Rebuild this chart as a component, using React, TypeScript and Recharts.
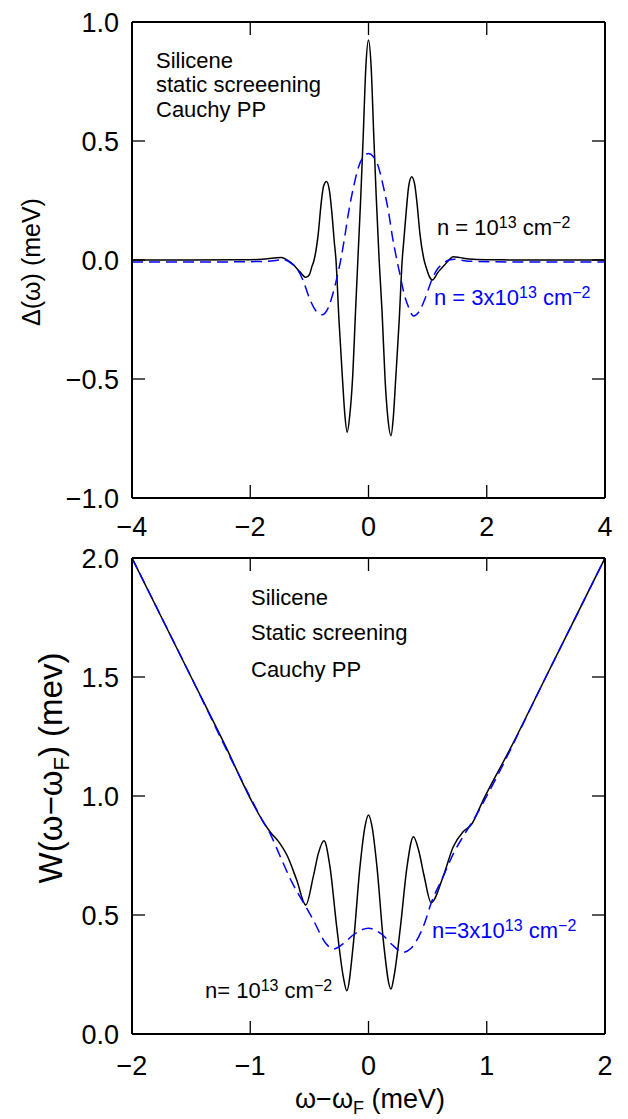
import React from 'react';
import { LineChart, Line, XAxis, YAxis } from 'recharts';

// ---------- Top panel: Delta(omega) ----------
const topOmegaN1 = [-4, -3, -2, -1.8, -1.6, -1.47, -1.38, -1.27, -1.16, -1.06, -1.0, -0.96, -0.92, -0.85, -0.8, -0.76, -0.71, -0.66, -0.62, -0.58, -0.55, -0.5, -0.44, -0.4, -0.36, -0.32, -0.27, -0.22, -0.18, -0.13, -0.088, -0.045, 0, 0.045, 0.088, 0.13, 0.18, 0.23, 0.28, 0.33, 0.38, 0.42, 0.46, 0.52, 0.57, 0.6, 0.64, 0.68, 0.73, 0.78, 0.82, 0.87, 0.94, 0.98, 1.03, 1.08, 1.18, 1.29, 1.38, 1.43, 1.55, 1.7, 2, 3, 4];
const topDeltaN1 = [0, 0, 0.001, 0.003, 0.008, 0.011, 0.0, -0.02, -0.05, -0.073, -0.062, -0.03, 0, 0.11, 0.24, 0.31, 0.33, 0.29, 0.2, 0.08, 0, -0.25, -0.5, -0.65, -0.724, -0.66, -0.5, -0.22, 0, 0.27, 0.53, 0.81, 0.924, 0.81, 0.53, 0.27, 0, -0.22, -0.5, -0.67, -0.738, -0.66, -0.5, -0.25, 0, 0.09, 0.21, 0.31, 0.35, 0.32, 0.24, 0.11, 0, -0.035, -0.07, -0.084, -0.05, -0.02, 0.005, 0.014, 0.01, 0.004, 0.001, 0, 0];

const topOmegaN3 = [-4, -2.5, -1.8, -1.6, -1.45, -1.3, -1.2, -1.1, -1.0, -0.9, -0.78, -0.68, -0.6, -0.53, -0.47, -0.4, -0.34, -0.25, -0.17, -0.08, 0, 0.08, 0.17, 0.25, 0.34, 0.41, 0.48, 0.54, 0.6, 0.68, 0.76, 0.86, 0.96, 1.06, 1.16, 1.26, 1.36, 1.46, 1.62, 1.8, 2.5, 4];
const topDeltaN3 = [-0.008, -0.008, -0.006, -0.003, 0.002, -0.015, -0.04, -0.09, -0.16, -0.21, -0.23, -0.2, -0.14, -0.07, 0, 0.1, 0.196, 0.31, 0.39, 0.435, 0.448, 0.435, 0.39, 0.31, 0.2, 0.09, 0, -0.07, -0.14, -0.2, -0.235, -0.215, -0.16, -0.09, -0.04, -0.015, 0, 0.003, -0.003, -0.006, -0.008, -0.008];

const topXTicks = [-4, -2, 0, 2, 4];
const topXTickLabels = ['\u22124', '\u22122', '0', '2', '4'];
const topYTicks = [-1, -0.5, 0, 0.5, 1];
const topYTickLabels = ['\u22121.0', '\u22120.5', '0.0', '0.5', '1.0'];

// ---------- Bottom panel: W(omega - omega_F) ----------
const botOmegaN1 = [-2, -1.5, -1.2, -1.0, -0.9, -0.833, -0.748, -0.69, -0.607, -0.53, -0.467, -0.424, -0.376, -0.326, -0.269, -0.213, -0.184, -0.128, -0.072, -0.03, 0, 0.03, 0.072, 0.128, 0.19, 0.215, 0.27, 0.325, 0.38, 0.425, 0.47, 0.53, 0.63, 0.717, 0.8, 0.87, 0.97, 1.2, 1.5, 2];
const botWN1 = [2.0, 1.5, 1.2, 0.99, 0.9, 0.85, 0.8, 0.752, 0.647, 0.542, 0.661, 0.759, 0.812, 0.703, 0.451, 0.24, 0.182, 0.38, 0.703, 0.871, 0.92, 0.871, 0.7, 0.38, 0.189, 0.24, 0.45, 0.7, 0.829, 0.77, 0.665, 0.552, 0.66, 0.787, 0.85, 0.88, 0.983, 1.2, 1.5, 2.0];

const botOmegaN3 = [-2, -1.5, -1.0, -0.9, -0.83, -0.75, -0.65, -0.53, -0.467, -0.36, -0.3, -0.2, -0.13, 0, 0.12, 0.2, 0.294, 0.36, 0.41, 0.47, 0.53, 0.63, 0.72, 0.8, 0.9, 1.0, 1.5, 2];
const botWN3 = [2.0, 1.5, 0.995, 0.9, 0.84, 0.75, 0.64, 0.535, 0.479, 0.38, 0.357, 0.385, 0.416, 0.444, 0.416, 0.375, 0.343, 0.36, 0.395, 0.46, 0.55, 0.66, 0.76, 0.83, 0.91, 1.0, 1.5, 2.0];

const botXTicks = [-2, -1, 0, 1, 2];
const botXTickLabels = ['\u22122', '\u22121', '0', '1', '2'];
const botYTicks = [0, 0.5, 1, 1.5, 2];
const botYTickLabels = ['0.0', '0.5', '1.0', '1.5', '2.0'];

const FONT = 'Liberation Sans, Arial, Helvetica, sans-serif';
const BLUE = '#0000ff';

const zip = (xs: number[], ys: number[]) => xs.map((x, i) => ({ x, y: ys[i] }));

const labelFor = (ticks: number[], labels: string[]) => (v: number) => {
  const i = ticks.findIndex((t) => Math.abs(t - v) < 1e-9);
  return i >= 0 ? labels[i] : '';
};

type PanelProps = {
  black: { x: number; y: number }[];
  blue: { x: number; y: number }[];
  xDomain: [number, number];
  yDomain: [number, number];
  xTicks: number[];
  xLabels: string[];
  yTicks: number[];
  yLabels: string[];
  height: number;
  plotTop: number;
  plotBottom: number;
  xTickMargin: number;
};

const frame = { stroke: '#000', strokeWidth: 2 };
const tickLine = { stroke: '#000', strokeWidth: 1.3 };
const tickFont = { fontSize: 27, fill: '#000', fontFamily: FONT };

const PLOT_LEFT = 132;
const PLOT_RIGHT = 605;
const LEFT_W = 60;
const RIGHT_W = 10;
const TOP_H = 10;
const BOTTOM_H = 30;

function Panel(p: PanelProps) {
  const margin = {
    top: p.plotTop - TOP_H,
    bottom: p.height - p.plotBottom - BOTTOM_H,
    left: PLOT_LEFT - LEFT_W,
    right: 628 - PLOT_RIGHT - RIGHT_W,
  };
  return (
    <LineChart width={628} height={p.height} margin={margin} style={{ overflow: 'visible' }}>
      <XAxis
        xAxisId="b"
        type="number"
        dataKey="x"
        orientation="bottom"
        domain={p.xDomain}
        ticks={p.xTicks}
        interval={0}
        allowDataOverflow
        height={BOTTOM_H}
        tickSize={-13}
        tickMargin={p.xTickMargin}
        axisLine={frame}
        tickLine={tickLine}
        tick={tickFont}
        tickFormatter={labelFor(p.xTicks, p.xLabels)}
      />
      <XAxis
        xAxisId="t"
        type="number"
        dataKey="x"
        orientation="top"
        domain={p.xDomain}
        ticks={p.xTicks}
        interval={0}
        allowDataOverflow
        height={TOP_H}
        tickSize={-13}
        axisLine={frame}
        tickLine={tickLine}
        tick={tickFont}
        tickFormatter={() => ''}
      />
      <YAxis
        yAxisId="l"
        type="number"
        orientation="left"
        domain={p.yDomain}
        ticks={p.yTicks}
        interval={0}
        allowDataOverflow
        width={LEFT_W}
        tickSize={-13}
        tickMargin={26}
        axisLine={frame}
        tickLine={tickLine}
        tick={tickFont}
        tickFormatter={labelFor(p.yTicks, p.yLabels)}
      />
      <YAxis
        yAxisId="r"
        type="number"
        orientation="right"
        domain={p.yDomain}
        ticks={p.yTicks}
        interval={0}
        allowDataOverflow
        width={RIGHT_W}
        tickSize={-13}
        axisLine={frame}
        tickLine={tickLine}
        tick={tickFont}
        tickFormatter={() => ''}
      />
      <Line
        xAxisId="b"
        yAxisId="l"
        data={p.black}
        dataKey="y"
        type="monotone"
        stroke="#000"
        strokeWidth={1.5}
        dot={false}
        activeDot={false}
        isAnimationActive={false}
      />
      <Line
        xAxisId="b"
        yAxisId="l"
        data={p.blue}
        dataKey="y"
        type="monotone"
        stroke={BLUE}
        strokeWidth={1.5}
        strokeDasharray="11 6"
        dot={false}
        activeDot={false}
        isAnimationActive={false}
      />
    </LineChart>
  );
}

function Sup({ children }: { children: React.ReactNode }) {
  return (
    <tspan dy={-7} fontSize={16}>
      {children}
    </tspan>
  );
}

export default function App() {
  return (
    <div style={{ position: 'absolute', left: 0, top: 0, width: 628, height: 1119, background: '#fff', fontFamily: FONT }}>
      <div style={{ position: 'absolute', left: 0, top: 0 }}>
        <Panel
          black={zip(topOmegaN1, topDeltaN1)}
          blue={zip(topOmegaN3, topDeltaN3)}
          xDomain={[-4, 4]}
          yDomain={[-1, 1]}
          xTicks={topXTicks}
          xLabels={topXTickLabels}
          yTicks={topYTicks}
          yLabels={topYTickLabels}
          height={556}
          plotTop={22}
          plotBottom={498}
          xTickMargin={32}
        />
      </div>
      <div style={{ position: 'absolute', left: 0, top: 540 }}>
        <Panel
          black={zip(botOmegaN1, botWN1)}
          blue={zip(botOmegaN3, botWN3)}
          xDomain={[-2, 2]}
          yDomain={[0, 2]}
          xTicks={botXTicks}
          xLabels={botXTickLabels}
          yTicks={botYTicks}
          yLabels={botYTickLabels}
          height={579}
          plotTop={18}
          plotBottom={494}
          xTickMargin={35}
        />
      </div>
      <svg
        width={628}
        height={1119}
        style={{ position: 'absolute', left: 0, top: 0, pointerEvents: 'none' }}
        fontFamily={FONT}
      >
        {/* top panel */}
        <text x={40} y={262} fontSize={25} textAnchor="middle" transform="rotate(-90, 40, 262)">
          {'\u0394(\u03c9) (meV)'}
        </text>
        <text x={156} y={68} fontSize={22}>Silicene</text>
        <text x={156} y={92} fontSize={22}>static screeening</text>
        <text x={156} y={117} fontSize={22}>Cauchy PP</text>
        <text x={437} y={235} fontSize={22}>
          {'n = 10'}
          <Sup>13</Sup>
          <tspan dy={7}>{' cm'}</tspan>
          <Sup>{'\u22122'}</Sup>
        </text>
        <text x={434} y={305} fontSize={22} fill={BLUE}>
          {'n = 3x10'}
          <Sup>13</Sup>
          <tspan dy={7}>{' cm'}</tspan>
          <Sup>{'\u22122'}</Sup>
        </text>

        {/* bottom panel */}
        <text x={62} y={768} fontSize={33} textAnchor="middle" transform="rotate(-90, 62, 768)">
          {'W(\u03c9\u2212\u03c9'}
          <tspan dy={7} fontSize={22}>F</tspan>
          <tspan dy={-7}>{') (mev)'}</tspan>
        </text>
        <text x={251} y={605} fontSize={22}>Silicene</text>
        <text x={251} y={640} fontSize={22}>Static screening</text>
        <text x={251} y={677} fontSize={22}>Cauchy PP</text>
        <text x={432} y={938} fontSize={22} fill={BLUE}>
          {'n=3x10'}
          <Sup>13</Sup>
          <tspan dy={7}>{' cm'}</tspan>
          <Sup>{'\u22122'}</Sup>
        </text>
        <text x={205} y={998} fontSize={22}>
          {'n= 10'}
          <Sup>13</Sup>
          <tspan dy={7}>{' cm'}</tspan>
          <Sup>{'\u22122'}</Sup>
        </text>
        <text x={370} y={1108} fontSize={27} textAnchor="middle">
          {'\u03c9\u2212\u03c9'}
          <tspan dy={6} fontSize={18}>F</tspan>
          <tspan dy={-6}>{' (meV)'}</tspan>
        </text>
      </svg>
    </div>
  );
}
